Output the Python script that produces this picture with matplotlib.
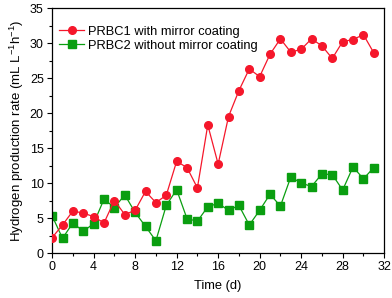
import matplotlib

matplotlib.use("Agg")
import matplotlib.pyplot as plt
from matplotlib.ticker import MultipleLocator

plt.rcParams["font.family"] = ["Liberation Sans", "DejaVu Sans"]
plt.rcParams["mathtext.fontset"] = "custom"
plt.rcParams["mathtext.rm"] = "Liberation Sans"
plt.rcParams["mathtext.it"] = "Liberation Sans:italic"

days = list(range(32))
prbc1 = [2.2, 4.0, 6.0, 5.7, 5.2, 4.3, 7.5, 5.5, 6.1, 8.8, 7.2, 8.25,
         13.1, 12.2, 9.3, 18.3, 12.7, 19.5, 23.2, 26.3, 25.2, 28.4, 30.6, 28.7,
         29.1, 30.6, 29.6, 27.8, 30.2, 30.5, 31.2, 28.6]
prbc2 = [5.3, 2.1, 4.3, 3.1, 4.2, 7.7, 6.5, 8.3, 5.8, 3.8, 1.75, 6.8,
         9.05, 4.9, 4.55, 6.6, 7.1, 6.1, 6.8, 4.0, 6.1, 8.4, 6.7, 10.85,
         10.0, 9.5, 11.3, 11.2, 9.0, 12.3, 10.6, 12.2]

RED = "#f5172b"
GREEN = "#0a9e10"

fig = plt.figure(figsize=(3.92, 2.98), dpi=100)
ax = fig.add_axes([0.133, 0.151, 0.847, 0.822])

ax.plot(days, prbc1, "-o", color=RED, lw=0.9, ms=5.5, mec=RED,
        label="PRBC1 with mirror coating", zorder=3)
ax.plot(days, prbc2, "-s", color=GREEN, lw=0.9, ms=5.2, mec=GREEN,
        label="PRBC2 without mirror coating", zorder=2)

ax.set_xlim(0, 32)
ax.set_ylim(0, 35)
ax.xaxis.set_major_locator(MultipleLocator(4))
ax.xaxis.set_minor_locator(MultipleLocator(2))
ax.yaxis.set_major_locator(MultipleLocator(5))
ax.yaxis.set_minor_locator(MultipleLocator(2.5))
ax.tick_params(which="both", direction="out", labelsize=9, width=0.8)
ax.tick_params(which="major", length=3.5, pad=2.5)
ax.tick_params(which="minor", length=2)
for s in ax.spines.values():
    s.set_linewidth(0.9)

ax.set_xlabel("Time (d)", fontsize=9.3, labelpad=5)
ax.set_ylabel("Hydrogen production rate (mL L$^{-1}$h$^{-1}$)", fontsize=9.5, labelpad=3)

ax.legend(loc="upper left", bbox_to_anchor=(0.0, 0.955), frameon=False,
          fontsize=9.3, handlelength=2.0, handletextpad=0.3, labelspacing=0.15,
          borderaxespad=0.1)

fig.savefig("out.png", dpi=100)
